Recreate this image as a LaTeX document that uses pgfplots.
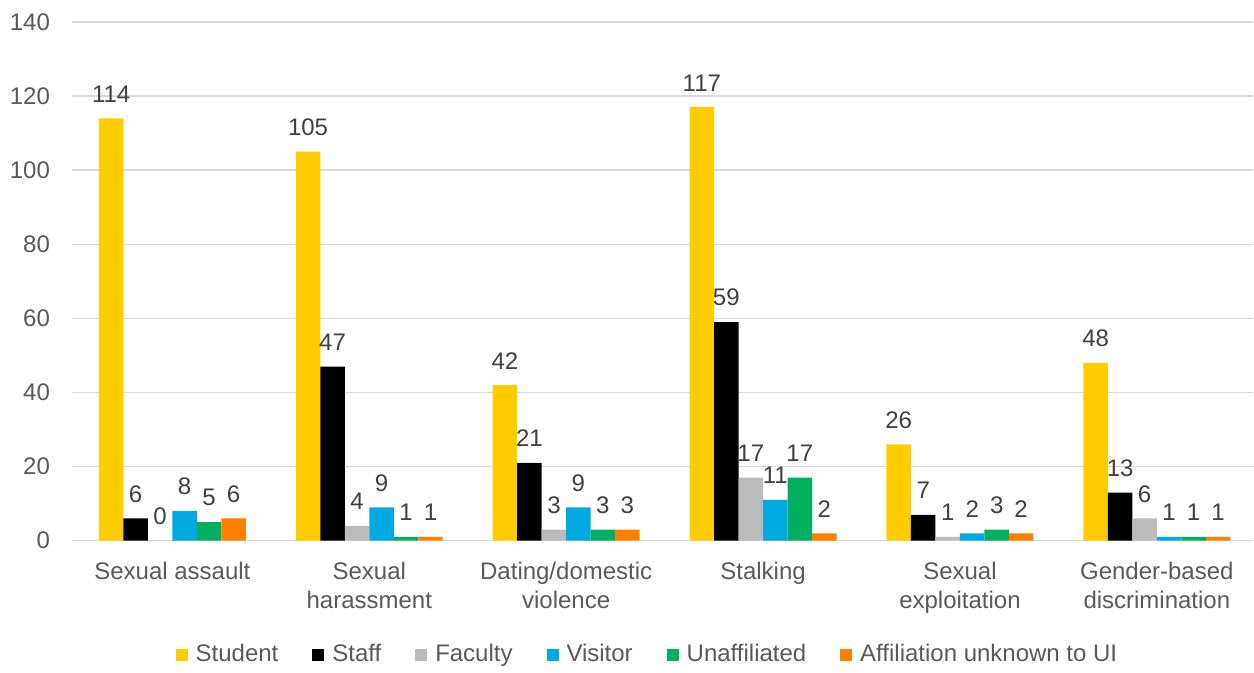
\documentclass[border=0pt]{standalone}
\usepackage{fontspec}
\setmainfont{Liberation Sans}
\usepackage{pgfplots}
\pgfplotsset{compat=1.18}
\definecolor{cStudent}{HTML}{FFCC00}
\definecolor{cStaff}{HTML}{000000}
\definecolor{cFaculty}{HTML}{BBBBBB}
\definecolor{cVisitor}{HTML}{00AAE0}
\definecolor{cUnaff}{HTML}{00B060}
\definecolor{cUnknown}{HTML}{FF8000}
\definecolor{gridgray}{HTML}{D9D9D9}
\definecolor{tickgray}{HTML}{595959}
\definecolor{labelgray}{HTML}{404040}
\begin{document}
\begin{tikzpicture}
\begin{axis}[
  at={(0,0)}, anchor=south west,
  scale only axis, width=591pt, height=259.5pt,
  ymin=0, ymax=140, ytick={0,20,...,140},
  xmin=-0.5, xmax=5.5, xtick={0,...,5},
  xticklabels={Sexual assault, Sexual\\harassment, Dating/domestic\\violence, Stalking, Sexual\\exploitation, Gender-based\\discrimination},
  xticklabel style={align=center, font=\fontsize{12}{14.5}\selectfont, text=tickgray, yshift=-7pt, xshift=1pt},
  yticklabel style={font=\fontsize{12}{14}\selectfont, text=tickgray, xshift=-7.5pt},
  /pgf/number format/assume math mode=true,
  major tick length=0pt,
  axis lines*=left,
  x axis line style={draw=gridgray, line width=0.75pt, -},
  y axis line style={draw=none},
  ymajorgrids, grid style={draw=gridgray, line width=0.75pt},
  ybar=0pt, bar width=12.25pt,
  nodes near coords,
  every node near coord/.append style={font=\fontsize{12}{14}\selectfont, text=labelgray, yshift=4.5pt},
  legend columns=-1,
  legend style={draw=none, fill=none, at={(0.488,-0.22)}, anchor=center,
    font=\fontsize{12}{14}\selectfont, text=tickgray,
    /tikz/every odd column/.append style={column sep=2pt},
    /tikz/every even column/.append style={column sep=15pt}},
  legend image code/.code={\fill[#1] (0pt,-3pt) rectangle (6pt,3pt);},
]
\addplot[fill=cStudent, draw=none, bar shift=-30.625pt+1pt] coordinates {(0,114) (1,105) (2,42) (3,117) (4,26) (5,48)};
\addplot[fill=cStaff, draw=none, bar shift=-18.375pt+1pt] coordinates {(0,6) (1,47) (2,21) (3,59) (4,7) (5,13)};
\addplot[fill=cFaculty, draw=none, bar shift=-6.125pt+1pt] coordinates {(0,0) (1,4) (2,3) (3,17) (4,1) (5,6)};
\addplot[fill=cVisitor, draw=none, bar shift=6.125pt+1pt] coordinates {(0,8) (1,9) (2,9) (3,11) (4,2) (5,1)};
\addplot[fill=cUnaff, draw=none, bar shift=18.375pt+1pt] coordinates {(0,5) (1,1) (2,3) (3,17) (4,3) (5,1)};
\addplot[fill=cUnknown, draw=none, bar shift=30.625pt+1pt] coordinates {(0,6) (1,1) (2,3) (3,2) (4,2) (5,1)};
\legend{Student, Staff, Faculty, Visitor, Unaffiliated, Affiliation unknown to UI}
\end{axis}
\path (-36pt,-63pt) rectangle (591pt,270.5pt);
\end{tikzpicture}
\end{document}
